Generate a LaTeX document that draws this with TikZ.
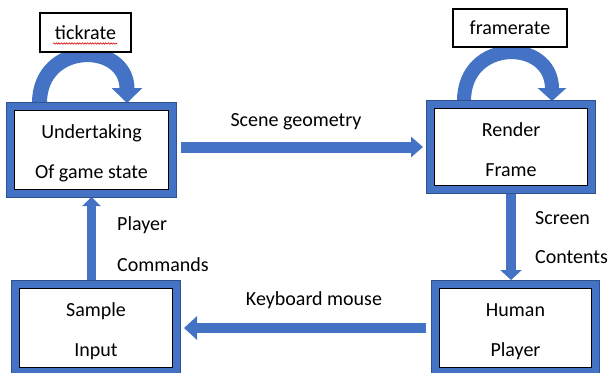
\documentclass[tikz,border=0pt]{standalone}
\usepackage{fontspec}
\setmainfont{Carlito}
\usetikzlibrary{arrows.meta,backgrounds,calc,decorations.pathmorphing}
\definecolor{officeblue}{HTML}{4472C4}
\definecolor{edgeblue}{HTML}{2F528F}
% taller first line so the two text lines sit a little lower in each stage
\newcommand{\firstline}{\rule{0pt}{20pt}}

\begin{document}
\begin{tikzpicture}[x=1pt,y=-1pt,
  stage/.style={rectangle, fill=white, draw=officeblue, line width=7.5pt,
    preaction={draw=edgeblue, line width=9pt},
    inner sep=0pt, align=center, font=\fontsize{20}{40}\selectfont},
  ratebox/.style={rectangle, draw=black, line width=1.3pt, fill=white,
    inner sep=0pt, font=\fontsize{20}{24}\selectfont},
  lbl/.style={inner sep=0pt, font=\fontsize{20}{24}\selectfont},
  flow/.style={draw=officeblue, line width=#1},
]
\useasboundingbox (0,0) rectangle (609,372);
\clip (0,0) rectangle (609,372);

% the four stages of the loop
\node[stage, minimum width=161.5pt, minimum height=86.5pt] (undert) at (91.5,150) {\firstline Undertaking\\Of game state};
\node[stage, minimum width=160.5pt, minimum height=84.5pt] (render) at (511,147) {\firstline Render\\Frame};
\node[stage, minimum width=160.5pt, minimum height=86.5pt] (sample) at (96,328) {\firstline Sample\\Input};
\node[stage, minimum width=159.5pt, minimum height=86.5pt] (human) at (515.5,328) {\firstline Human\\Player};

% thin black frame inside each blue border
\foreach \n in {undert,render,sample,human}
  \draw[black, line width=1.6pt] ([shift={(7.5,7.5)}]\n.north west) rectangle ([shift={(-7.5,-7.5)}]\n.south east);

% rate boxes above the self loops
\node[ratebox, minimum width=91pt, minimum height=39pt] (tick) at (85.5,32.5) {tickrate};
\node[ratebox, minimum width=114pt, minimum height=38pt] (frame) at (510,28) {framerate};
\draw[red!85!black, line width=0.6pt, decorate,
      decoration={snake, amplitude=0.7pt, segment length=2.6pt}] (53,43.5) -- (117,43.5);

% connector labels
\node[lbl] (scenelbl) at (296,122) {Scene geometry};
\node[lbl] (kbdlbl) at (314,300) {Keyboard mouse};
\node[lbl, anchor=west] (cmdlbl1) at (117,225) {Player};
\node[lbl, anchor=west] (cmdlbl2) at (117,265) {Commands};
\node[lbl, anchor=west] (scrlbl1) at (535,218) {Screen};
\node[lbl, anchor=west] (scrlbl2) at (535,257) {Contents};

% block arrows, kept behind the boxes
\begin{scope}[on background layer]
  \draw[flow=11pt, -{Triangle[length=12pt,width=20pt]}, shorten <=5pt, shorten >=4pt]
    (undert.east |- render.west) -- (render.west);
  \draw[flow=10pt, -{Triangle[length=10pt,width=21pt]}, shorten >=1pt]
    (render.south) -- (render.south |- human.north);
  \draw[flow=9.5pt, -{Triangle[length=13pt,width=23pt]}, shorten <=6pt, shorten >=4pt]
    (human.west) -- (sample.east);
  \draw[flow=8.5pt, -{Triangle[length=9pt,width=18pt]}]
    (undert.south |- sample.north) -- (undert.south);
  % self loops
  \draw[flow=15pt, -{Triangle[length=15pt,width=30pt]}]
    ($(undert.north west)+(32.5,0)$) .. controls +(0,-62) and +(0,-62) .. ($(undert.north west)+(120,0)$);
  \draw[flow=14pt, -{Triangle[length=13pt,width=28pt]}]
    ($(render.north west)+(37,0)$) .. controls +(0,-63) and +(0,-63) .. ($(render.north west)+(125,0)$);
\end{scope}
\end{tikzpicture}
\end{document}
